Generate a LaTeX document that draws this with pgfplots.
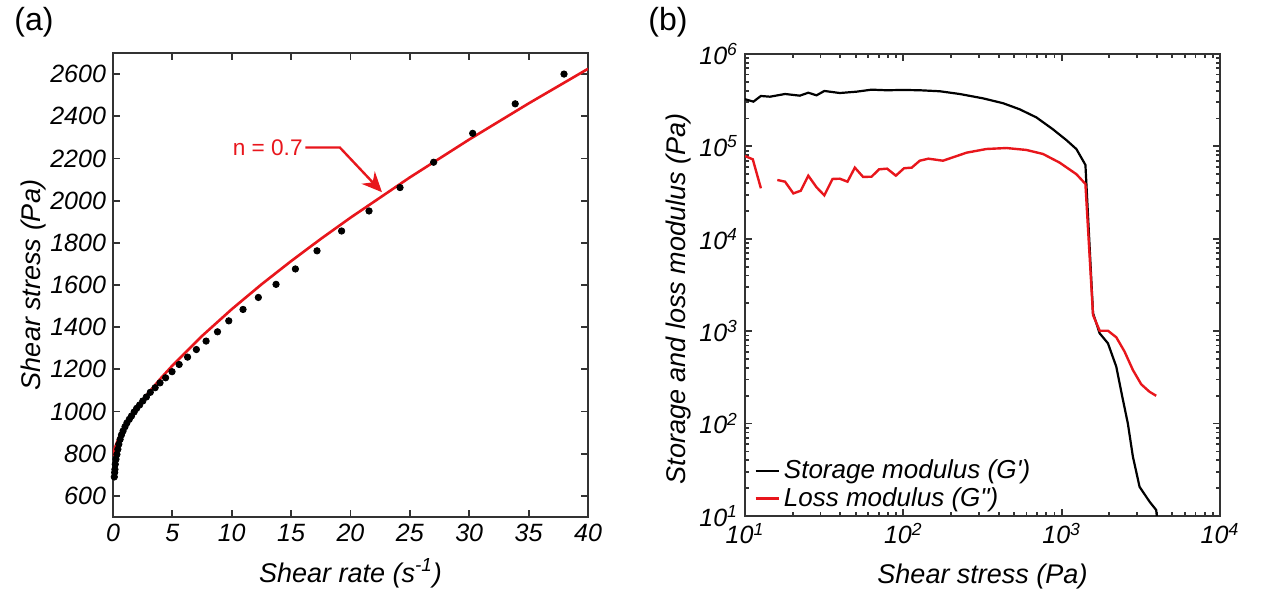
\documentclass[border=0pt]{standalone}
\usepackage{fontspec}
\setmainfont{Liberation Sans}
\usepackage{pgfplots}
\pgfplotsset{compat=1.18}
\usetikzlibrary{arrows.meta}
\definecolor{myred}{RGB}{232,22,28}
\definecolor{axgray}{RGB}{51,51,51}
\pgfplotsset{
  common/.style={
    scale only axis,
    axis line style={axgray, line width=1.2pt},
    tick style={axgray, line width=0.9pt},
    major tick length=3.5pt,
    minor tick length=2pt,
    tick label style={font=\itshape\fontsize{12.5}{14}\selectfont, text=black},
    label style={font=\itshape\fontsize{13.5}{15}\selectfont},
    /pgf/number format/assume math mode=true,
    /pgf/number format/1000 sep={},
  }
}
\begin{document}
\begin{tikzpicture}[x=1pt,y=1pt]
\useasboundingbox (0,0) rectangle (635,296);
\node[font=\fontsize{16}{18}\selectfont] at (17,285) {(a)};
\node[font=\fontsize{16}{18}\selectfont] at (334,285) {(b)};

\begin{axis}[common,
  at={(56.5pt,37.5pt)}, anchor=south west,
  width=237.5pt, height=232pt,
  xmin=0, xmax=40, ymin=500, ymax=2700,
  xtick={0,5,...,40}, ytick={600,800,...,2600},
  xlabel={Shear rate (s\textsuperscript{-1})},
  ylabel={Shear stress (Pa)},
  xlabel style={at={(axis description cs:0.5,-0.121)}, anchor=center},
  ylabel style={at={(axis description cs:-0.168,0.5)}, anchor=center},
]
\addplot[only marks, mark=*, mark size=1.6pt, black] coordinates {
(0.11,690)(0.14,711)(0.16,726)(0.19,750)(0.25,774)(0.33,797)(0.41,821)(0.49,845)
(0.60,868)(0.71,889)(0.85,908)(1.01,928)(1.17,946)(1.37,963)(1.56,979)(1.78,998)
(1.99,1015)(2.24,1031)(2.51,1050)(2.81,1069)(3.14,1091)(3.55,1113)(3.96,1136)
(4.43,1160)(4.97,1189)(5.57,1223)(6.28,1258)(7.02,1294)(7.84,1334)(8.80,1378)
(9.75,1430)(10.95,1484)(12.24,1541)(13.73,1603)(15.36,1676)(17.18,1762)
(19.25,1856)(21.56,1951)(24.17,2062)(27.0,2182)(30.29,2319)(33.87,2459)(37.98,2600)
};
\addplot[myred, line width=1.3pt] coordinates {
(0,790)(0.02,799)(0.05,807)(0.1,817.7)(0.25,842.6)(0.5,875.4)(0.75,903.4)(1,928.7)
(1.5,974.2)(2,1015.3)(3,1089.3)(4,1156.0)(5,1217.9)(7.5,1358.4)(10,1485.2)
(12.5,1602.8)(15,1713.3)(17.5,1818.5)(20,1919.2)(25,2110.2)(30,2289.9)(35,2460.8)(40,2625.0)
};
\node[text=myred, font=\fontsize{11.3}{13}\selectfont, anchor=east, inner sep=0pt] at (axis cs:16.0,2250) {n = 0.7};
\draw[myred, line width=1.2pt, -{Stealth[length=10pt,width=9pt]}]
  (axis cs:16.2,2252) -- (axis cs:19.1,2252) -- (axis cs:22.65,2040);
\end{axis}

\begin{axis}[common,
  at={(372.5pt,38pt)}, anchor=south west,
  width=237.5pt, height=231pt,
  xmode=log, ymode=log,
  xmin=10, xmax=10000, ymin=10, ymax=1000000,
  xtick={10,100,1000,10000},
  xticklabels={10\textsuperscript{1},10\textsuperscript{2},10\textsuperscript{3},10\textsuperscript{4}},
  ytick={10,100,1000,10000,100000,1000000},
  yticklabels={10\textsuperscript{1},10\textsuperscript{2},10\textsuperscript{3},10\textsuperscript{4},10\textsuperscript{5},10\textsuperscript{6}},
  unbounded coords=jump,
  xlabel={Shear stress (Pa)},
  ylabel={Storage and loss modulus (Pa)},
  xlabel style={at={(axis description cs:0.5,-0.132)}, anchor=center},
  ylabel style={at={(axis description cs:-0.141,0.47)}, anchor=center},
  legend style={draw=none, fill=none, at={(rel axis cs:0.015,0)}, anchor=south west,
    font=\itshape\fontsize{13}{13}\selectfont, row sep=-1pt, inner sep=1pt},
  legend cell align=left,
  legend image code/.code={\draw[#1] (0pt,0pt) -- (11.5pt,0pt);},
]
\addplot[black, line width=1.1pt] coordinates {
(10,3.24e5)(11.3,3.05e5)(12.6,3.51e5)(14.4,3.45e5)(17.9,3.69e5)(22.2,3.54e5)
(25.1,3.81e5)(28.3,3.57e5)(31.7,3.98e5)(39.7,3.78e5)(50.7,3.91e5)(63,4.11e5)
(78.4,4.05e5)(100,4.08e5)(127,4.05e5)(170,3.95e5)(227,3.69e5)(319,3.31e5)
(427,2.93e5)(543,2.52e5)(692,2.06e5)(881,1.53e5)(1071,1.17e5)(1239,9.35e4)
(1413,6.3e4)(1578,1563)(1738,948)(1960,740)(2213,413)(2414,196)(2619,100)
(2818,43.8)(3105,20.7)(3589,14.3)(3955,11.6)(3990,10)
};
\addlegendentry{Storage modulus (G\textquotesingle)}
\addplot[myred, line width=1.2pt] coordinates {
(10,7.87e4)(11.2,7.24e4)(12.6,3.52e4)(14,nan)(16.0,4.33e4)(17.9,4.15e4)(20.2,3.1e4)
(22.5,3.31e4)(25.1,4.82e4)(28.3,3.61e4)(31.7,2.95e4)(35.7,4.44e4)(39.7,4.47e4)
(44.4,4.15e4)(49.4,5.89e4)(55.7,4.67e4)(63,4.7e4)(70.3,5.65e4)(79,5.74e4)
(89.7,4.82e4)(101,5.8e4)(113,5.89e4)(127,7.0e4)(144,7.36e4)(178,7.0e4)
(251,8.55e4)(335,9.37e4)(448,9.6e4)(598,9.15e4)(762,8.28e4)(971,6.67e4)
(1239,5.0e4)(1413,3.92e4)(1578,1497)(1738,1012)(1960,1012)(2213,859)(2494,603)
(2818,380)(3182,266)(3589,221)(3955,200)
};
\addlegendentry{Loss modulus (G\textquotedbl)}
\end{axis}
\end{tikzpicture}
\end{document}
